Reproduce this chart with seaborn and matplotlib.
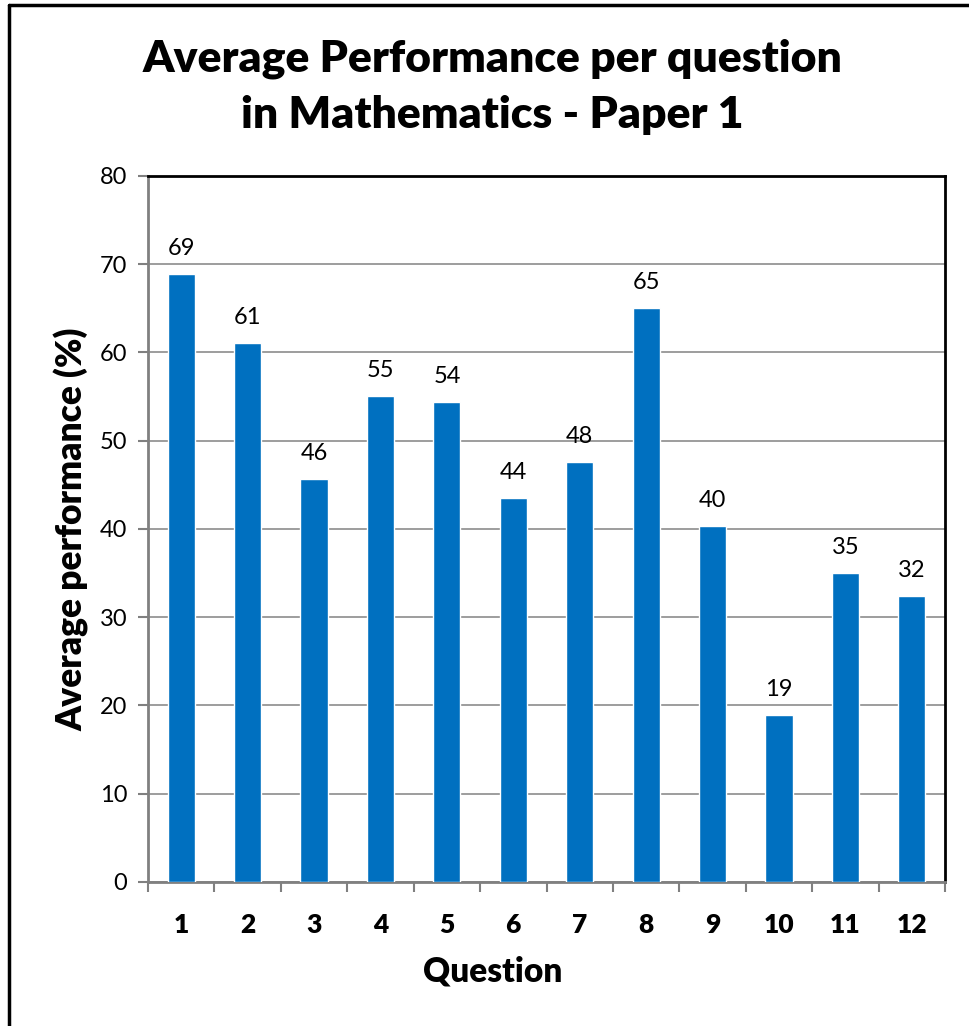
import matplotlib
matplotlib.use("Agg")
import matplotlib.pyplot as plt
from matplotlib.lines import Line2D
import seaborn as sns
import pandas as pd

# Values
questions = ["1", "2", "3", "4", "5", "6", "7", "8", "9", "10", "11", "12"]
performance = [68.9, 61.1, 45.7, 55.1, 54.4, 43.5, 47.6, 65.0, 40.3, 18.9, 35.0, 32.4]
y_ticks = [0, 10, 20, 30, 40, 50, 60, 70, 80]

df = pd.DataFrame({"Question": questions, "Performance": performance})

sns.set_style("white")
plt.rcParams["font.family"] = ["Lato", "DejaVu Sans"]

fig = plt.figure(figsize=(9.69, 10.26), dpi=100)
ax = fig.add_axes([0.1527, 0.1404, 0.8226, 0.6881])

sns.barplot(data=df, x="Question", y="Performance", color="#0070C0",
            width=0.41, saturation=1, ax=ax, zorder=3)

# grid
ax.set_ylim(0, 80)
ax.set_yticks(y_ticks)
ax.yaxis.grid(True, color="#8c8c8c", linewidth=1.2, zorder=0)
ax.set_xlim(-0.5, len(questions) - 0.5)

# value labels
for i, v in enumerate(performance):
    ax.text(i, v + 1.7, f"{round(v):d}", ha="center", va="bottom", fontsize=17,
            color="black")

# spines
for side in ["top", "right"]:
    ax.spines[side].set_color("black")
    ax.spines[side].set_linewidth(2)
for side in ["left", "bottom"]:
    ax.spines[side].set_color("#808080")
    ax.spines[side].set_linewidth(2)

ax.tick_params(axis="y", length=7, width=1.5, color="#808080", labelsize=17, pad=8,
               left=True, labelcolor="black")
ax.set_xticks(range(len(questions)))
ax.set_xticklabels(questions, fontsize=19, fontweight="heavy")
ax.tick_params(axis="x", length=0, pad=22, labelcolor="black")
# x ticks sit at category boundaries
ax.set_xticks([i - 0.5 for i in range(len(questions) + 1)], minor=True)
ax.tick_params(axis="x", which="minor", length=7, width=1.5, color="#808080", bottom=True)

ax.set_xlabel("Question", fontsize=24, fontweight="heavy", color="black")
ax.xaxis.set_label_coords(0.432, -0.104)
ax.set_ylabel("Average performance (%)", fontsize=25.5, fontweight="heavy", color="black")
ax.yaxis.set_label_coords(-0.074, 0.5)

fig.text(0.508, 0.943, "Average Performance per question", ha="center", va="center",
         fontsize=32, fontweight="heavy", color="black")
fig.text(0.508, 0.888, "in Mathematics - Paper 1", ha="center", va="center",
         fontsize=32, fontweight="heavy", color="black")

# outer frame (left and top edges visible)
fig.add_artist(Line2D([0.0088, 0.0088], [0, 0.9956], color="black", linewidth=2.5,
                      transform=fig.transFigure))
fig.add_artist(Line2D([0.0088, 1.0], [0.9956, 0.9956], color="black", linewidth=2.5,
                      transform=fig.transFigure))

fig.savefig("out.png", dpi=100)
